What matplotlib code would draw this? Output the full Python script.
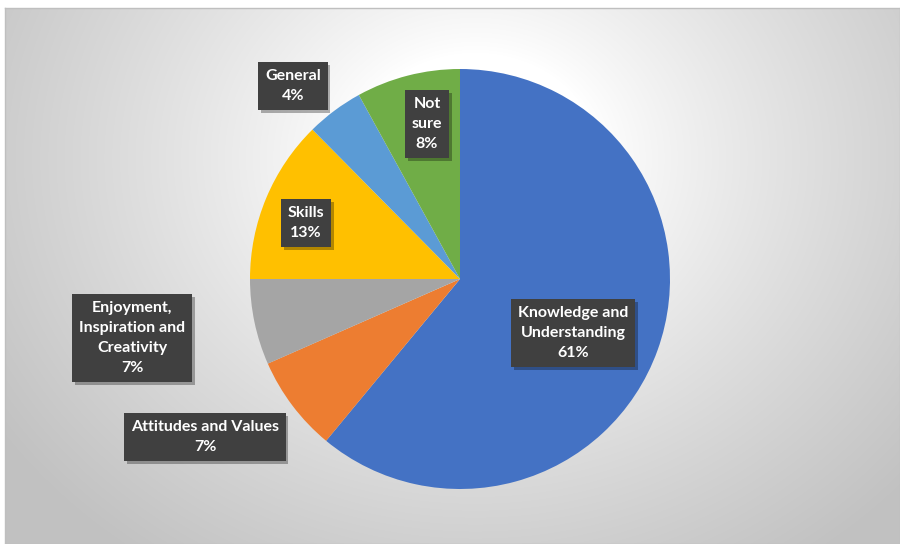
import numpy as np
import matplotlib
matplotlib.use("Agg")
import matplotlib.pyplot as plt
import matplotlib.patheffects as pe

# data
categories = ["Knowledge and\nUnderstanding", "Attitudes and Values", "Enjoyment,\nInspiration and\nCreativity",
              "Skills", "General", "Not\nsure"]
values = [61.0, 7.4, 6.6, 12.6, 4.4, 8.0]
colors = ["#4472C4", "#ED7D31", "#A5A5A5", "#FFC000", "#5B9BD5", "#70AD47"]

# label box centres in pixels of the figure (x from left, y from top)
label_px = [(573, 333), (205, 437), (132, 338), (306, 223), (293, 86), (427, 124)]

W, H = 900, 544
fig = plt.figure(figsize=(W / 100, H / 100), dpi=100)
fig.patch.set_facecolor("white")

# chart area with radial gradient
left, top = 5, 8
bg = fig.add_axes([left / W, 0, (W - left) / W, (H - top) / H])
yy, xx = np.mgrid[0:H - top, 0:W - left]
cx, cy = 470, 150
r = np.sqrt(((xx - cx) / 560.0) ** 2 + ((yy - cy) / 480.0) ** 2)
v = 1.0 - 0.24 * np.clip((r - 0.22) / 0.8, 0, 1) ** 0.85
img = np.dstack([v, v, v])
bg.imshow(img, aspect="auto", interpolation="bilinear")
bg.set_xticks([])
bg.set_yticks([])
for s in bg.spines.values():
    s.set_color("#bfbfbf")
    s.set_linewidth(1)

# pie
cxp, cyp, rad = 460, 279, 210
ax = fig.add_axes([(cxp - rad) / W, (H - cyp - rad) / H, 2 * rad / W, 2 * rad / H])
ax.pie(values, colors=colors, startangle=90, counterclock=False, radius=1,
       wedgeprops=dict(linewidth=0))
ax.set_xlim(-1, 1)
ax.set_ylim(-1, 1)
ax.set_aspect("equal")
ax.axis("off")

for cat, val, (px, py) in zip(categories, values, label_px):
    xd = (px - cxp) / rad
    yd = (cyp - py) / rad
    t = ax.text(xd, yd, f"{cat}\n{round(val):.0f}%", ha="center", va="center",
                color="white", fontsize=11.5, fontweight="bold", family="Lato",
                linespacing=1.55,
                bbox=dict(boxstyle="square,pad=0.42", fc="#404040", lw=0))
    t.get_bbox_patch().set_path_effects([
        pe.SimplePatchShadow(offset=(2, -2), shadow_rgbFace="black", alpha=0.3),
        pe.Normal()])

fig.savefig("out.png", dpi=100)
